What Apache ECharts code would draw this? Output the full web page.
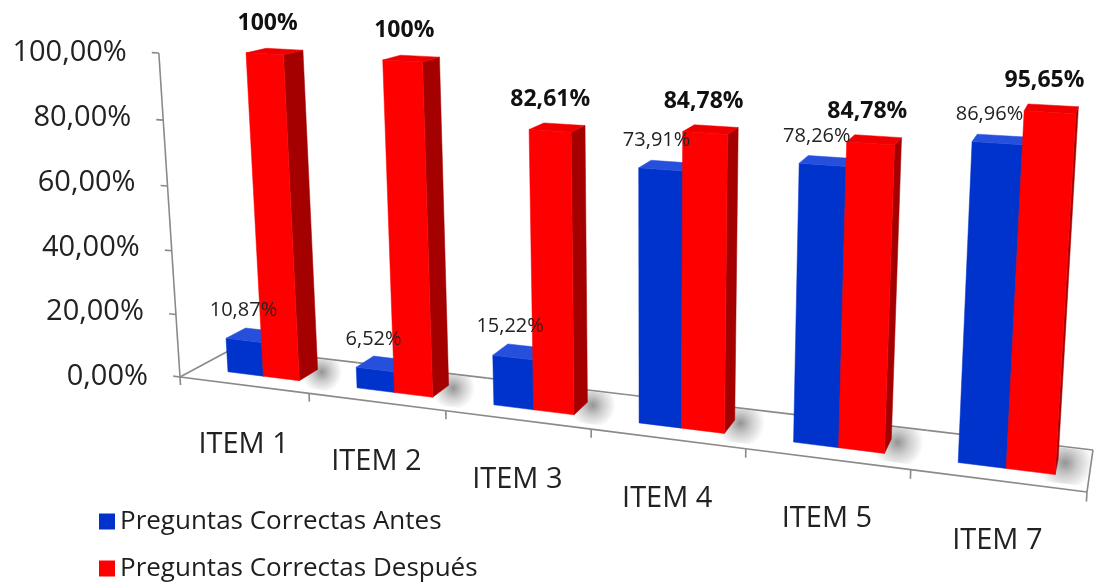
<!DOCTYPE html>
<html>
<head>
<meta charset="utf-8">
<script src="https://cdn.jsdelivr.net/npm/echarts@6/dist/echarts.min.js"></script>
<style>
  html, body { margin: 0; padding: 0; background: #ffffff; }
  #chart { width: 1095px; height: 584px; }
</style>
</head>
<body>
<div id="chart"></div>
<script>
// ---- data ----
const categories = ['ITEM 1', 'ITEM 2', 'ITEM 3', 'ITEM 4', 'ITEM 5', 'ITEM 7'];
const antes = [10.87, 6.52, 15.22, 73.91, 78.26, 86.96];
const despues = [100, 100, 82.61, 84.78, 84.78, 95.65];
const seriesNames = ['Preguntas Correctas Antes', 'Preguntas Correctas Después'];
const yTicks = [0, 20, 40, 60, 80, 100];
const yTickLabels = ['0,00%', '20,00%', '40,00%', '60,00%', '80,00%', '100,00%'];

// ---- look ----
const FONT = "'Open Sans', 'Liberation Sans', sans-serif";
const GRID = { left: 180, right: 8, top: 53, bottom: 207 };
const FACES = [
  { front: '#0033cc', top: '#2650dc', side: '#001f8c' },   // Antes
  { front: '#ff0000', top: '#ee0000', side: '#a50000' }    // Después
];
// column footprint inside one category slot (fractions of the slot) and its depth on the floor
const BAR = { start: 0.25, width: 0.28, v0: 0.30, v1: 0.67 };
// perspective of the 3D plot box: u runs along the categories, v into the depth, t up the value axis
const PERSP = { g: -0.1709, h: 0.05707, k: -0.0431,
                ux: 0.8291, uy: 0.1051, vx: 0.0629, vy: -0.0338, tx: -0.0625, ty: -0.9569 };

function project(r, u, v, t) {
  const w = 1 + PERSP.g * u + PERSP.h * v + PERSP.k * t;
  return [
    r.x + (PERSP.ux * r.width * u + PERSP.vx * r.width * v + PERSP.tx * r.height * t) / w,
    r.y + r.height + (PERSP.uy * r.width * u + PERSP.vy * r.width * v + PERSP.ty * r.height * t) / w
  ];
}

const fmtAntes = v => v.toFixed(2).replace('.', ',') + '%';
const fmtDespues = v => (Number.isInteger(v) ? String(v) : v.toFixed(2).replace('.', ',')) + '%';

const el = document.getElementById('chart');
const chart = echarts.init(el, null, { renderer: 'canvas' });
const plot = {
  x: GRID.left, y: GRID.top,
  width: chart.getWidth() - GRID.left - GRID.right,
  height: chart.getHeight() - GRID.top - GRID.bottom
};

// value-axis labels follow the slanted front-left edge of the box
const Y_MARGIN = 32;
const yRich = {};
yTicks.forEach((v, idx) => {
  const t = v / 100;
  const p = project(plot, 0, 0, t);
  const s = plot.x - p[0];
  yRich['y' + idx] = {
    fontFamily: FONT, fontSize: 29, color: '#222222', lineHeight: 32,
    padding: [0, s, 0, 0]
  };
});

// category labels sit below the front edge of the floor
const X_MARGIN = 8, X_LH = 32;
const xRich = {};
categories.forEach((c, i) => {
  const uc = (i + 0.5) / categories.length;
  const p = project(plot, uc, 0, 0);
  const flatX = plot.x + plot.width * uc;
  const dx = p[0] - flatX;
  const drop = p[1] + 60 - (plot.y + plot.height + X_MARGIN) - X_LH / 2;
  xRich['c' + i] = {
    fontFamily: FONT, fontSize: 29, color: '#222222',
    lineHeight: X_LH + 2 * Math.max(drop, 0),
    padding: [0, dx < 0 ? -2 * dx : 0, 0, dx > 0 ? 2 * dx : 0]
  };
});

function slotU(r, cx, band, f) {
  return (cx - band / 2 + f * band - r.x) / r.width;
}

function poly(points, fill) {
  return { type: 'polygon', shape: { points }, style: { fill, stroke: fill, lineWidth: 0.5 } };
}

// floor, its edges, ticks, the value axis line and the soft column shadows
function renderFloor(params, api) {
  const r = params.coordSys;
  const i = api.value(0);
  const n = categories.length;
  const base = api.coord([i, 0]);
  const band = api.size([1, 0])[0];
  const ua = slotU(r, base[0], band, 0), ub = slotU(r, base[0], band, 1);
  const P = (u, v, t) => project(r, u, v, t);
  const line = '#8a8a8a';
  const seg = (a, b) => ({ type: 'line', shape: { x1: a[0], y1: a[1], x2: b[0], y2: b[1] },
                          style: { stroke: line, lineWidth: 1.6 } });
  const children = [];

  // soft shadow cast on the floor to the right of the cluster
  const uStart = slotU(r, base[0], band, BAR.start);
  const uEnd = slotU(r, base[0], band, BAR.start + 2 * BAR.width);
  const uSh = uEnd + 0.42 * band / r.width;
  const sh = [P(uStart, BAR.v0 - 0.18, 0), P(uSh, BAR.v0 - 0.18, 0), P(uSh, BAR.v1 + 0.3, 0), P(uStart, BAR.v1 + 0.3, 0)];
  children.push({
    type: 'polygon', shape: { points: sh },
    style: { fill: new echarts.graphic.RadialGradient(0.62, 0.48, 0.5, [
      { offset: 0, color: 'rgba(0,0,0,0.42)' },
      { offset: 0.45, color: 'rgba(0,0,0,0.2)' },
      { offset: 1, color: 'rgba(0,0,0,0)' }
    ]) }
  });

  children.push(seg(P(ua, 0, 0), P(ub, 0, 0)));
  children.push(seg(P(ua, 1, 0), P(ub, 1, 0)));
  children.push(seg(P(ua, 0, 0), P(ua, 0, -0.026)));
  if (i === n - 1) {
    children.push(seg(P(ub, 0, 0), P(ub, 1, 0)));
    children.push(seg(P(ub, 0, 0), P(ub, 0, -0.026)));
  }
  if (i === 0) {
    children.push(seg(P(ua, 0, 0), P(ua, 1, 0)));
    const top = api.coord([0, yTicks[yTicks.length - 1]]);
    children.push(seg(P(ua, 0, 0), P(ua, 0, (base[1] - top[1]) / r.height)));
    yTicks.forEach(v => {
      const c = api.coord([0, v]);
      const t = (base[1] - c[1]) / r.height;
      children.push(seg(P(ua, 0, t), P(ua - 0.009, 0, t)));
    });
  }
  return { type: 'group', children };
}

// a 3D column: front, right side and top faces
function renderColumn(seriesIdx) {
  const f0 = BAR.start + seriesIdx * BAR.width, f1 = f0 + BAR.width;
  const col = FACES[seriesIdx];
  return function (params, api) {
    const r = params.coordSys;
    const i = api.value(0), val = api.value(1);
    const base = api.coord([i, 0]), top = api.coord([i, val]);
    const band = api.size([1, 0])[0];
    const u0 = slotU(r, base[0], band, f0), u1 = slotU(r, base[0], band, f1);
    const t = (base[1] - top[1]) / r.height;
    const v0 = BAR.v0, v1 = BAR.v1;
    const P = (u, v, tt) => project(r, u, v, tt);
    return {
      type: 'group',
      children: [
        poly([P(u1, v0, 0), P(u1, v1, 0), P(u1, v1, t), P(u1, v0, t)], col.side),
        poly([P(u0, v0, 0), P(u1, v0, 0), P(u1, v0, t), P(u0, v0, t)], col.front),
        poly([P(u0, v0, t), P(u1, v0, t), P(u1, v1, t), P(u0, v1, t)], col.top)
      ]
    };
  };
}

// value labels above each column
function renderLabels(params, api) {
  const r = params.coordSys;
  const i = api.value(0);
  const base = api.coord([i, 0]);
  const band = api.size([1, 0])[0];
  const vm = (BAR.v0 + BAR.v1) / 2;
  const out = [];
  [0, 1].forEach(s => {
    const val = api.value(1 + s);
    const c = api.coord([i, val]);
    const t = (base[1] - c[1]) / r.height;
    const um = slotU(r, base[0], band, BAR.start + (s + 0.5) * BAR.width);
    const p = project(r, um, vm, t);
    out.push({
      type: 'text',
      x: p[0] + (s === 0 ? -10 : -7),
      y: p[1] + (s === 0 ? -25 : -28),
      style: {
        text: s === 0 ? fmtAntes(val) : fmtDespues(val),
        fontFamily: FONT,
        fontSize: s === 0 ? 20 : 23,
        fontWeight: s === 0 ? 'normal' : 'bold',
        fill: s === 0 ? '#222222' : '#111111',
        align: 'center', verticalAlign: 'middle'
      }
    });
  });
  return { type: 'group', children: out };
}

const option = {
  animation: false,
  backgroundColor: '#ffffff',
  grid: GRID,
  legend: {
    data: seriesNames,
    orient: 'vertical',
    left: 99, top: 506,
    padding: 0,
    icon: 'rect',
    itemWidth: 16, itemHeight: 16, itemGap: 16,
    selectedMode: false,
    textStyle: { fontFamily: FONT, fontSize: 26, color: '#1e1e1e', lineHeight: 31 }
  },
  xAxis: {
    type: 'category',
    data: categories,
    axisLine: { show: false },
    axisTick: { show: false },
    splitLine: { show: false },
    axisLabel: {
      interval: 0, margin: X_MARGIN,
      formatter: value => '{c' + categories.indexOf(value) + '|' + value + '}',
      rich: xRich
    }
  },
  yAxis: {
    type: 'value', min: 0, max: 100, interval: 20,
    axisLine: { show: false },
    axisTick: { show: false },
    splitLine: { show: false },
    axisLabel: {
      margin: Y_MARGIN,
      formatter: value => {
        const k = yTicks.indexOf(value);
        return '{y' + k + '|' + yTickLabels[k] + '}';
      },
      rich: yRich
    }
  },
  series: [
    {
      name: 'suelo', type: 'custom', z: 1, silent: true,
      renderItem: renderFloor,
      encode: { x: 0, y: 1 },
      data: categories.map((c, i) => [i, 0])
    },
    {
      name: seriesNames[0], type: 'custom', z: 2,
      itemStyle: { color: FACES[0].front },
      renderItem: renderColumn(0),
      encode: { x: 0, y: 1 },
      data: antes.map((v, i) => [i, v])
    },
    {
      name: seriesNames[1], type: 'custom', z: 3,
      itemStyle: { color: FACES[1].front },
      renderItem: renderColumn(1),
      encode: { x: 0, y: 1 },
      data: despues.map((v, i) => [i, v])
    },
    {
      name: 'etiquetas', type: 'custom', z: 4, silent: true,
      renderItem: renderLabels,
      encode: { x: 0, y: [1, 2] },
      data: categories.map((c, i) => [i, antes[i], despues[i]])
    }
  ]
};

chart.setOption(option);
</script>
</body>
</html>
